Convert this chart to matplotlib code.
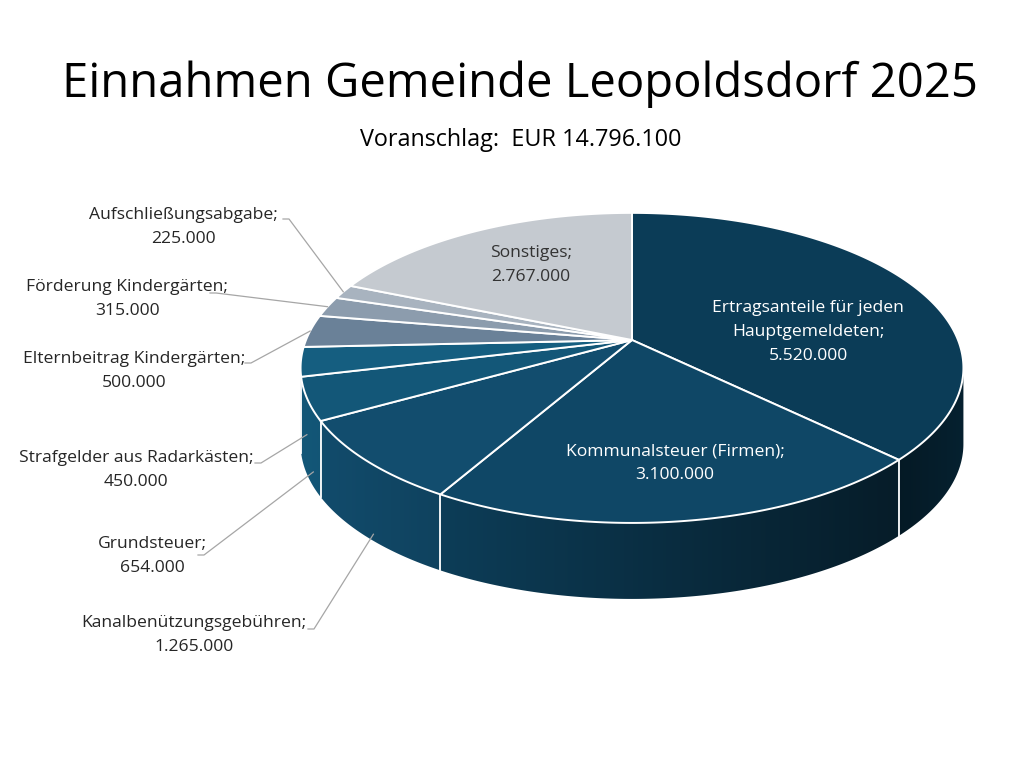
import matplotlib
matplotlib.use("Agg")
import matplotlib.pyplot as plt
from matplotlib.patches import Polygon
import matplotlib.colors as mcolors
import numpy as np

plt.rcParams['font.family'] = ['Open Sans', 'DejaVu Sans']

# data
categories = [
    "Ertragsanteile für jeden\nHauptgemeldeten;",
    "Kommunalsteuer (Firmen);",
    "Kanalbenützungsgebühren;",
    "Grundsteuer;",
    "Strafgelder aus Radarkästen;",
    "Elternbeitrag Kindergärten;",
    "Förderung Kindergärten;",
    "Aufschließungsabgabe;",
    "Sonstiges;",
]
values = [5520000, 3100000, 1265000, 654000, 450000, 500000, 315000, 225000, 2767000]
colors = ['#0b3c57', '#0f4766', '#124d6e', '#135778', '#155e80',
          '#6a8198', '#8c9cad', '#a8b3bf', '#c5cad0']
title = "Einnahmen Gemeinde Leopoldsdorf 2025"
subtitle = "Voranschlag:  EUR 14.796.100"

# pie geometry (pixel space, perspective ellipse)
CX, CY = 632, 340
RX, RY = 326, 150
K = 0.18
DEPTH = 76

# label layout: (x, y of first line, text colour, leader start or None)
label_layout = [
    (808, 308, 'white', None),
    (675, 451, 'white', None),
    (194, 623, '#262626', (308, 629)),
    (152, 544, '#262626', (198, 555)),
    (136, 458, '#262626', (255, 463)),
    (134, 359, '#262626', (245, 363)),
    (127, 287, '#262626', (210, 293)),
    (183, 215, '#262626', (283, 219)),
    (531, 253, '#333333', None),
]


def project(t_deg, drop=0.0):
    t = np.radians(t_deg)
    d = 1 - K * np.sin(t)
    return CX + RX * np.cos(t) / d, CY + RY * np.sin(t) / d + drop


def shade(x):
    # darkening of the side wall from left to right
    return np.interp(x, [300, 890, 965], [1.0, 0.41, 0.55])


total = sum(values)
fracs = np.array(values) / total
starts = -90 + 360 * np.concatenate([[0], np.cumsum(fracs)[:-1]])
ends = starts + 360 * fracs

fig = plt.figure(figsize=(10.24, 7.68), dpi=100)
ax = fig.add_axes([0, 0, 1, 1])
ax.set_xlim(0, 1024)
ax.set_ylim(768, 0)
ax.axis('off')

# side walls (only the front part is visible)
t_left = 180 - np.degrees(np.arcsin(K))
t_right = np.degrees(np.arcsin(K))
xs = np.linspace(290, 975, 600)
for a, b, c in zip(starts, ends, colors):
    a2, b2 = max(a, t_right), min(b, t_left)
    if b2 <= a2:
        continue
    ts = np.linspace(a2, b2, 120)
    tx, ty = project(ts)
    bx, by = project(ts[::-1], DEPTH)
    pts = np.column_stack([np.concatenate([tx, bx]), np.concatenate([ty, by])])
    poly = Polygon(pts, closed=True, facecolor='none', edgecolor='none')
    ax.add_patch(poly)
    rgb = np.array(mcolors.to_rgb(c))
    img = (shade(xs)[:, None] * rgb[None, :])[None, :, :]
    im = ax.imshow(img, extent=(290, 975, 640, 200), aspect='auto',
                   interpolation='bilinear', zorder=1)
    im.set_clip_path(poly)

# white lines on wall at slice boundaries
for t in ends:
    tt = (t + 90) % 360 - 90
    if t_right < tt < t_left:
        x0, y0 = project(tt)
        x1, y1 = project(tt, DEPTH)
        ax.plot([x0, x1], [y0, y1], color='white', lw=1.3, zorder=2)

# top faces
for a, b, c in zip(starts, ends, colors):
    n = max(int((b - a) * 2), 8)
    ts = np.linspace(a, b, n)
    px, py = project(ts)
    pts = np.column_stack([np.concatenate([[CX], px]), np.concatenate([[CY], py])])
    ax.add_patch(Polygon(pts, closed=True, facecolor=c, edgecolor='white',
                         lw=1.4, joinstyle='round', zorder=3))

# labels
for i, (cat, v) in enumerate(zip(categories, values)):
    lx, ly, tc, lead = label_layout[i]
    lines = (cat + "\n" + f"{v:,}".replace(',', '.')).split("\n")
    for j, line in enumerate(lines):
        ax.text(lx, ly + 24 * j, line, ha='center', va='center', fontsize=12.6,
                color=tc, zorder=5)
    if lead is not None:
        mid = (starts[i] + ends[i]) / 2
        axp, ayp = project(mid)
        if np.sin(np.radians(mid)) > 0.1:
            axp, ayp = axp + 6, ayp + DEPTH - 3
        sx, sy = lead
        ax.plot([sx, sx + 6, axp], [sy, sy, ayp], color='#a6a6a6', lw=0.9, zorder=4)

ax.text(520, 97, title, ha='center', va='baseline', fontsize=34, color='black')
ax.text(521, 146, subtitle, ha='center', va='baseline', fontsize=16.8, color='black')

fig.savefig('out.png', dpi=100, facecolor='white')
